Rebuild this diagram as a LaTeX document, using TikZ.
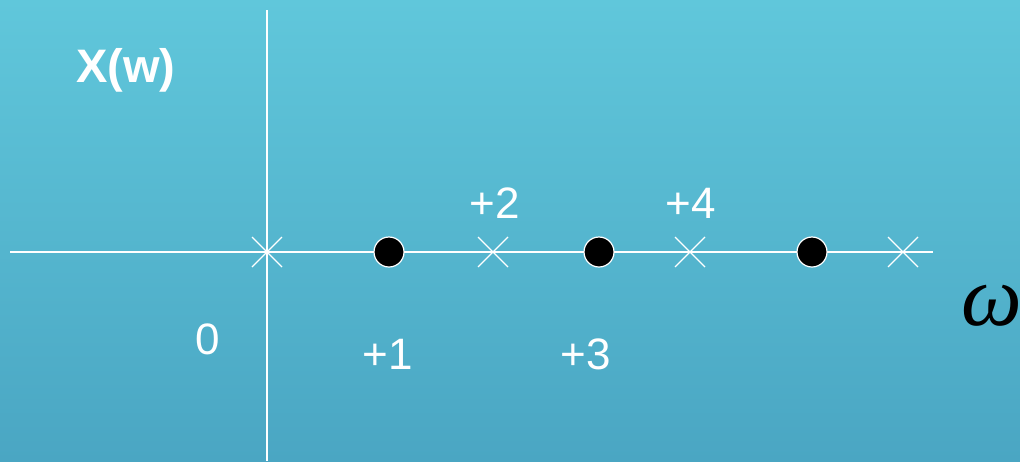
\documentclass[tikz,border=0pt]{standalone}
\usepackage{fontspec}
\setmainfont{Liberation Sans}
\newfontfamily\omegafont{Liberation Serif}
\usetikzlibrary{calc}
\definecolor{bgtop}{RGB}{96,199,219}
\definecolor{bgbot}{RGB}{74,166,195}
\begin{document}
\begin{tikzpicture}[x=1pt,y=-1pt,
  axis/.style={white,line width=2.8pt},
  xmark/.style={white,line width=1.3pt},
  dotmark/.style={circle,fill=black,draw=white,line width=1.2pt,minimum size=30pt,inner sep=0pt},
  lab/.style={text=white,font=\fontsize{44}{48}\selectfont,inner sep=0pt}]
\shade[top color=bgtop,bottom color=bgbot] (0,0) rectangle (1020,461);
\useasboundingbox (0,0) rectangle (1020,461);
\coordinate (vtop) at (267,10);
\coordinate (vbot) at (267,461);
\coordinate (hl) at (10,252);
\coordinate (hr) at (933,252);
\draw[axis] (vtop) -- (vbot);
\draw[axis] (hl) -- (hr);
\foreach \n/\x in {x0/267,x2/493,x4/690,x6/903}{
  \coordinate (\n) at (\x,252);
  \draw[xmark] ($(\n)+(-15,-15)$) -- ($(\n)+(15,15)$);
  \draw[xmark] ($(\n)+(-15,15)$) -- ($(\n)+(15,-15)$);
}
\node[dotmark] (d1) at (389,252) {};
\node[dotmark] (d3) at (599,252) {};
\node[dotmark] (d5) at (812,252) {};
\node[lab,font=\bfseries\fontsize{47}{50}\selectfont] (xw) at (126,70) {X(w)};
\node[lab] (l2) at (495,203) {+2};
\node[lab] (l4) at (691,203) {+4};
\node[lab] (l0) at (208,339) {0};
\node[lab] (l1) at (388,354) {+1};
\node[lab] (l3) at (586,354) {+3};
\node[inner sep=0pt,anchor=west,font=\omegafont\itshape\fontsize{86}{90}\selectfont] (om) at (961,306) {ω};
\end{tikzpicture}
\end{document}
